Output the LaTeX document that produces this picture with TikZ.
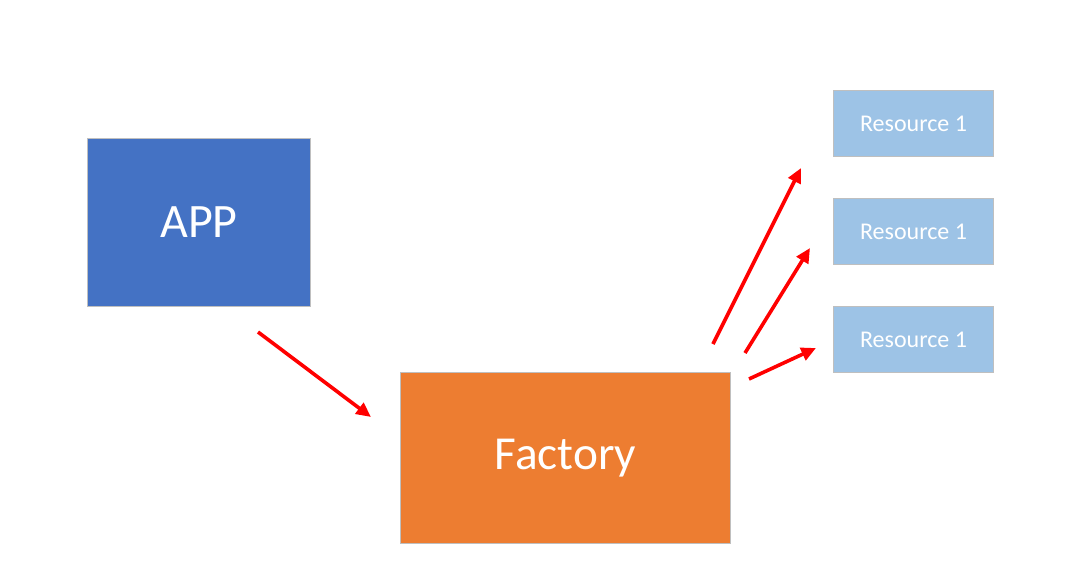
\documentclass[tikz,border=0pt]{standalone}
\usepackage{fontspec}
\setmainfont{Carlito}
\usetikzlibrary{arrows.meta}
\definecolor{appblue}{HTML}{4472C4}
\definecolor{factorange}{HTML}{ED7D31}
\definecolor{reslight}{HTML}{9DC3E6}
\definecolor{boxedge}{HTML}{BFBFBF}
\definecolor{arrred}{HTML}{FF0000}
\tikzset{
  box/.style={draw=boxedge, line width=0.75pt, text=white, inner sep=0pt, anchor=north west},
  flow/.style={draw=arrred, line width=2.7pt, -{Triangle[length=11pt,width=10pt]}, shorten >=0pt}
}
\begin{document}
\begin{tikzpicture}[x=0.75pt,y=-0.75pt]
\useasboundingbox[fill=white] (0,0) rectangle (1075,583);
\node[box, fill=appblue, minimum width=223*0.75pt, minimum height=168*0.75pt, font=\fontsize{36}{40}\selectfont] (app) at (87,138) {APP};
\node[box, fill=factorange, minimum width=330*0.75pt, minimum height=171*0.75pt, font=\fontsize{35.5}{40}\selectfont] (factory) at (400,372) {\raisebox{-2pt}{Factory}};
\node[box, fill=reslight, minimum width=160*0.75pt, minimum height=66*0.75pt, font=\fontsize{18}{22}\selectfont] (r1) at (833,90) {Resource 1};
\node[box, fill=reslight, minimum width=160*0.75pt, minimum height=66*0.75pt, font=\fontsize{18}{22}\selectfont] (r2) at (833,198) {Resource 1};
\node[box, fill=reslight, minimum width=160*0.75pt, minimum height=66*0.75pt, font=\fontsize{18}{22}\selectfont] (r3) at (833,306) {Resource 1};
\coordinate (a0) at (258,332);
\coordinate (a1) at (371,417);
\coordinate (b0) at (713,344);
\coordinate (b1) at (801,168);
\coordinate (c0) at (745,353);
\coordinate (c1) at (810,248);
\coordinate (d0) at (749,379);
\coordinate (d1) at (816,348);
\draw[flow] (a0) -- (a1);
\draw[flow] (b0) -- (b1);
\draw[flow] (c0) -- (c1);
\draw[flow] (d0) -- (d1);
\end{tikzpicture}
\end{document}
